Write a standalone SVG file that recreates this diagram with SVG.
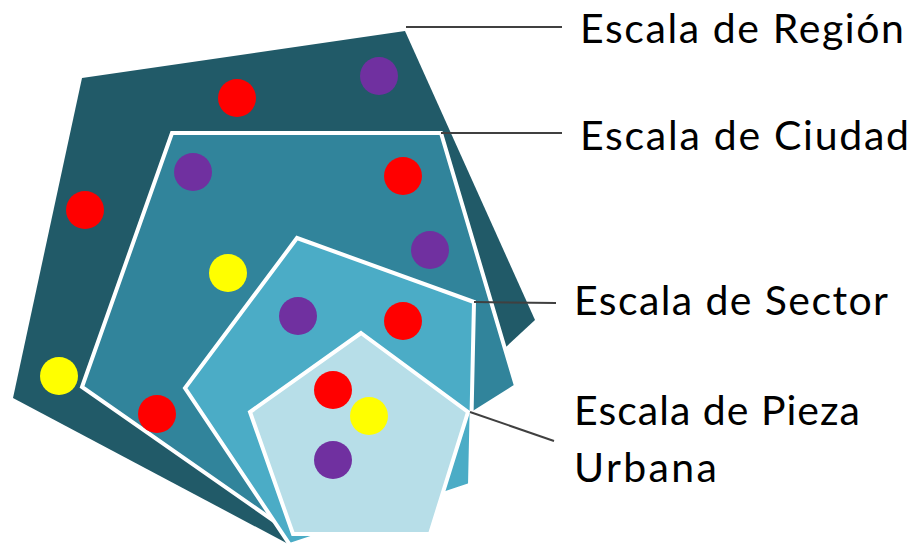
<svg xmlns="http://www.w3.org/2000/svg" width="914" height="545" viewBox="0 0 914 545">
<style>
.lbl{font-family:Lato,"Open Sans","Liberation Sans",sans-serif;font-size:41px;fill:#000000}
.shape{stroke:#ffffff;stroke-width:4;stroke-linejoin:miter}
.conn{stroke:#404040;stroke-width:2;fill:none}
.r{fill:#ff0000}.p{fill:#7030a0}.y{fill:#ffff00}
</style>
<rect width="914" height="545" fill="#ffffff"/>
<g id="region">
<polygon points="82,78 405,31 535,320 292,546 13,398" fill="#215a68"/>
</g>
<g id="ciudad">
<polygon class="shape" points="172,133 441,133 516,386 287,530 82,387" fill="#31849b"/>
</g>
<g id="sector">
<polygon class="shape" points="297,238 474,302 470,485 290,545 185,388" fill="#4bacc6"/>
</g>
<g id="pieza">
<polygon class="shape" points="361,333 468,412 430,534 293,534 250,412" fill="#b7dee8"/>
</g>
<g id="dots">
<circle class="r" cx="237" cy="98" r="19"/>
<circle class="p" cx="379" cy="76" r="19"/>
<circle class="r" cx="85" cy="210" r="19"/>
<circle class="y" cx="59" cy="376" r="19"/>
<circle class="p" cx="193" cy="172" r="19"/>
<circle class="r" cx="403" cy="176" r="19"/>
<circle class="p" cx="430" cy="250" r="19"/>
<circle class="y" cx="228" cy="273" r="19"/>
<circle class="r" cx="157" cy="414" r="19"/>
<circle class="p" cx="298" cy="316" r="19"/>
<circle class="r" cx="403" cy="321" r="19"/>
<circle class="r" cx="333" cy="390" r="19"/>
<circle class="y" cx="369" cy="416" r="19"/>
<circle class="p" cx="333" cy="460" r="19"/>
</g>
<g id="connectors">
<line class="conn" x1="406" y1="27" x2="562" y2="27"/>
<line class="conn" x1="441" y1="133" x2="562" y2="133"/>
<line class="conn" x1="474" y1="302" x2="556" y2="303"/>
<line class="conn" x1="470" y1="412" x2="554" y2="441"/>
</g>
<g id="labels">
<text class="lbl" x="580" y="43" textLength="324" lengthAdjust="spacing">Escala de Región</text>
<text class="lbl" x="580" y="150" textLength="329" lengthAdjust="spacing">Escala de Ciudad</text>
<text class="lbl" x="574" y="315" textLength="314" lengthAdjust="spacing">Escala de Sector</text>
<text class="lbl" x="574" y="425" textLength="286" lengthAdjust="spacing">Escala de Pieza</text>
<text class="lbl" x="574" y="482" textLength="143" lengthAdjust="spacing">Urbana</text>
</g>
</svg>
